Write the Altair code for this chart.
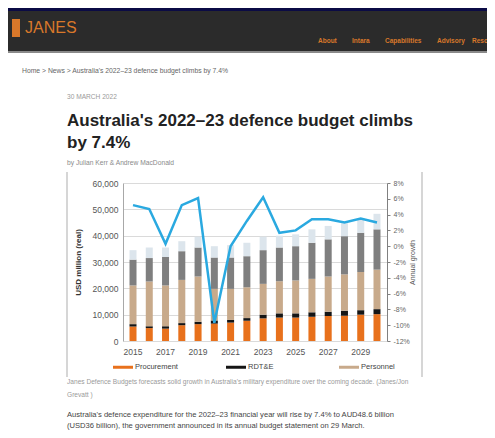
import altair as alt
import pandas as pd

# ---------------- data ----------------
years = list(range(2015, 2031))
categories = ["Procurement", "RDT&E", "Personnel", "Operations & Maintenance", "Other"]
procurement = [5500, 4900, 4700, 6000, 6400, 6600, 7000, 7700, 8600, 8900, 8900, 9200, 9500, 9600, 10000, 10200]
rdte = [900, 700, 900, 800, 900, 1200, 1000, 1000, 1400, 1600, 1600, 1700, 1600, 1900, 1700, 1900]
personnel = [14700, 17000, 15500, 16400, 17200, 12000, 11800, 11700, 11700, 12200, 12500, 12700, 13400, 13800, 14500, 15000]
operations = [9800, 8900, 10800, 10900, 11000, 11900, 11900, 11800, 12800, 12800, 13000, 13700, 14100, 14500, 14900, 15300]
other = [3600, 4000, 3600, 3800, 4100, 4300, 4700, 5100, 5100, 4500, 4500, 5100, 5100, 4900, 4900, 5900]
growth = [5.2, 4.7, 0.3, 5.2, 6.1, -9.7, 0.0, 3.2, 6.2, 1.7, 2.0, 3.4, 3.4, 3.0, 3.5, 3.0]
year_ticks = [2015, 2017, 2019, 2021, 2023, 2025, 2027, 2029]
usd_ticks = [0, 10000, 20000, 30000, 40000, 50000, 60000]
pct_ticks = [-12, -10, -8, -6, -4, -2, 0, 2, 4, 6, 8]
colors = ["#E8711C", "#151515", "#C8AA8B", "#7F7F7F", "#DCE5EC"]

series = [procurement, rdte, personnel, operations, other]
rows = []
for k, (cat, vals) in enumerate(zip(categories, series)):
    for y, v in zip(years, vals):
        rows.append({"year": y, "category": cat, "value": v, "k": k})
bars_df = pd.DataFrame(rows)
growth_df = pd.DataFrame({"year": years, "growth": growth})
one = pd.DataFrame({"d": [0]})

FONT = "Liberation Sans"
OX, OY = 123, 183  # page position of the plot origin (for page decorations)


def txt(s, X, Y, size, color, weight="normal", align="left"):
    return alt.Chart(one).mark_text(
        align=align, baseline="middle", font=FONT, fontSize=size,
        color=color, fontWeight=weight
    ).encode(x=alt.value(X - OX), y=alt.value(Y - OY), text=alt.value(s))


def box(X1, Y1, X2, Y2, color):
    return alt.Chart(one).mark_rect(color=color).encode(
        x=alt.value(X1 - OX), x2=alt.value(X2 - OX),
        y=alt.value(Y1 - OY), y2=alt.value(Y2 - OY))


def vline(X, Y1, Y2, color):
    return alt.Chart(one).mark_rule(color=color, strokeWidth=1.5).encode(
        x=alt.value(X - OX), y=alt.value(Y1 - OY), y2=alt.value(Y2 - OY))


orange = "#D9782A"
decor = [
    box(0, 0, 495, 52, "#2B2B2B"),
    box(0, 0, 495, 11, "#0B0B45"),
    box(0, 51, 495, 53, "#8A8A8A"),
    box(12, 19, 20, 37, orange),
    txt("JANES", 25, 28, 16, orange),
    txt("About", 318, 41, 6.5, orange, "bold"),
    txt("Intara", 352, 41, 6.5, orange, "bold"),
    txt("Capabilities", 385, 41, 6.5, orange, "bold"),
    txt("Advisory", 437, 41, 6.5, orange, "bold"),
    txt("Reso", 472, 41, 6.5, orange, "bold"),
    txt("Home  >  News  >  Australia's 2022\u201323 defence budget climbs by 7.4%", 22, 71, 6.8, "#666666"),
    txt("30 MARCH 2022", 67, 97, 6.6, "#9A9A9A"),
    txt("Australia's 2022\u201323 defence budget climbs", 67, 121, 17, "#222222", "bold"),
    txt("by 7.4%", 67, 143, 17, "#222222", "bold"),
    txt("by Julian Kerr & Andrew MacDonald", 67, 163, 6.7, "#8A8A8A"),
    vline(67, 172, 377, "#C8C8C8"),
    vline(422, 172, 377, "#C8C8C8"),
    txt("Janes Defence Budgets forecasts solid growth in Australia's military expenditure over the coming decade. (Janes/Jon", 67, 382, 6.6, "#9A9A9A"),
    txt("Grevatt )", 67, 395, 6.6, "#9A9A9A"),
    txt("Australia's defence expenditure for the 2022\u201323 financial year will rise by 7.4% to AUD48.6 billion", 67, 415, 7.6, "#444444"),
    txt("(USD36 billion), the government announced in its annual budget statement on 29 March.", 67, 426, 7.6, "#444444"),
]

bars = alt.Chart(bars_df).mark_bar(size=7).encode(
    x=alt.X("year:O", title=None,
            scale=alt.Scale(paddingInner=0.57, paddingOuter=0.4),
            axis=alt.Axis(values=year_ticks, labelAngle=0, ticks=False, domain=False,
                          labelPadding=6, labelFontSize=8.5, labelColor="#555555", labelFont=FONT)),
    y=alt.Y("value:Q", stack="zero",
            scale=alt.Scale(domain=[0, 60000], nice=False),
            axis=alt.Axis(title="USD million (real)", values=usd_ticks,
                          labelExpr="format(datum.value, ',')",
                          ticks=False, domain=True, domainColor="#A8A8A8",
                          grid=True, gridColor="#DADADA",
                          labelFontSize=8.5, labelColor="#555555", labelFont=FONT, labelPadding=5,
                          titleFontSize=8, titleFont=FONT, titleFontWeight="bold",
                          titleColor="#333333", titlePadding=10)),
    color=alt.Color("category:N",
                    scale=alt.Scale(domain=categories, range=colors),
                    legend=alt.Legend(title=None, values=categories[:3], orient="none",
                                      legendX=-10, legendY=174, direction="horizontal",
                                      columns=3, gridAlign="all", columnPadding=48,
                                      symbolType="M-1,-0.15H1V0.15H-1Z", symbolSize=400,
                                      symbolStrokeWidth=0,
                                      labelFontSize=7.5, labelFont=FONT, labelColor="#444444",
                                      labelOffset=2)),
    order=alt.Order("k:Q", sort="ascending"),
)

line = alt.Chart(growth_df).mark_line(color="#2AA9E0", strokeWidth=2.5).encode(
    x=alt.X("year:O", bandPosition=0.5),
    y=alt.Y("growth:Q",
            scale=alt.Scale(domain=[-12, 8], nice=False),
            axis=alt.Axis(orient="right", title="Annual growth", values=pct_ticks,
                          labelExpr="datum.value + '%'", grid=False,
                          domain=True, domainColor="#808080", ticks=True, tickColor="#808080",
                          tickSize=3, labelFontSize=7, labelColor="#666666", labelFont=FONT,
                          labelPadding=3, titleFontSize=7, titleFont=FONT, titleColor="#555555",
                          titleFontWeight="normal", titleAngle=270, titlePadding=6)),
)

chart = alt.layer(*decor, bars, line).resolve_scale(y="independent").properties(
    width=264, height=158,
    padding={"left": 115, "top": 175, "right": 100, "bottom": 89},
    autosize=alt.AutoSizeParams(type="none"),
    background="white",
).configure_view(stroke=None)

chart.save("out.html", embed_options={"renderer": "svg", "actions": False})
